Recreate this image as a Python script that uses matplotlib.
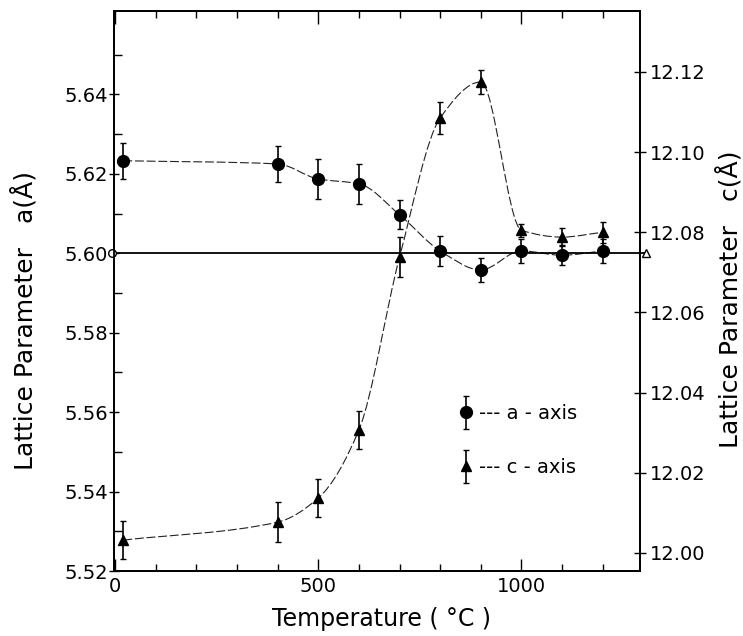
"""
Lattice parameters a and c versus temperature
"""

import numpy as np
import matplotlib.pyplot as plt
from matplotlib.path import Path
from matplotlib.patches import PathPatch
from matplotlib.ticker import FixedLocator
from matplotlib.container import ErrorbarContainer
from matplotlib.legend_handler import HandlerErrorbar

# Data
temps = [20, 400, 500, 600, 700, 800, 900, 1000, 1100, 1200]
a_vals = [5.6233, 5.6225, 5.6187, 5.6175, 5.6097, 5.6006, 5.5958, 5.6006, 5.5995, 5.6006]
a_errs = [0.0045, 0.0045, 0.0050, 0.0050, 0.0037, 0.0038, 0.0030, 0.0030, 0.0025, 0.0030]
c_vals = [12.0032, 12.0077, 12.0137, 12.0307, 12.0738, 12.1085, 12.1175, 12.0805, 12.0788, 12.0800]
c_errs = [0.0048, 0.0050, 0.0048, 0.0047, 0.0050, 0.0040, 0.0030, 0.0016, 0.0023, 0.0026]
a_ref = 5.60

a_ticks = [5.52, 5.54, 5.56, 5.58, 5.60, 5.62, 5.64]
a_minor = [5.53, 5.55, 5.57, 5.59, 5.61, 5.63, 5.65]
c_ticks = [12.00, 12.02, 12.04, 12.06, 12.08, 12.10, 12.12]
x_ticks = [0, 500, 1000]
x_minor = [100, 200, 300, 400, 600, 700, 800, 900, 1100, 1200]
legend_labels = ['--- a - axis', '--- c - axis']

FONT = 'DejaVu Sans'
FS_TICK = 14
FS_LABEL = 17
DPI = 100


def pchip_path(x, y):
    """Monotone cubic Hermite curve through the points, as a Bezier path"""
    x = np.asarray(x, float)
    y = np.asarray(y, float)
    h = np.diff(x)
    d = np.diff(y) / h
    m = np.zeros_like(y)
    for i in range(1, len(x) - 1):
        if d[i - 1] * d[i] > 0:
            w1 = 2 * h[i] + h[i - 1]
            w2 = h[i] + 2 * h[i - 1]
            m[i] = (w1 + w2) / (w1 / d[i - 1] + w2 / d[i])
    m[0] = d[0]
    m[-1] = d[-1]
    verts = [(x[0], y[0])]
    codes = [Path.MOVETO]
    for i in range(len(x) - 1):
        verts += [(x[i] + h[i] / 3, y[i] + m[i] * h[i] / 3),
                  (x[i + 1] - h[i] / 3, y[i + 1] - m[i + 1] * h[i] / 3),
                  (x[i + 1], y[i + 1])]
        codes += [Path.CURVE4] * 3
    return Path(verts, codes)


plt.rcParams['font.family'] = FONT

fig = plt.figure(figsize=(7.43, 6.36), dpi=DPI)
ax = fig.add_axes([0.1534, 0.1022, 0.708, 0.8805])
ax2 = ax.twinx()

ax.set_xlim(-3, 1292)
ax.set_ylim(5.52, 5.661)
ax2.set_ylim(11.9955, 12.1352)

# smooth guide curves
ax.add_patch(PathPatch(pchip_path(temps, a_vals), fill=False, lw=0.8,
                       ls=(0, (8, 2.5)), ec='#222222'))
ax2.add_patch(PathPatch(pchip_path(temps, c_vals), fill=False, lw=0.8,
                        ls=(0, (8, 2.5)), ec='#222222'))

# reference line at 5.60
x0, x1 = ax.get_xlim()
ax.plot([x0, x1 + 15], [a_ref, a_ref], color='black', lw=1.3, clip_on=False)
ax.plot([x0 - 4], [a_ref], marker='o', mfc='white', mec='black', ms=5.5,
        clip_on=False, zorder=5)
ax.plot([x1 + 15], [a_ref], marker='^', mfc='white', mec='black', ms=5.5,
        clip_on=False, zorder=5)

ha = ax.errorbar(temps, a_vals, yerr=a_errs, fmt='o', color='black', ms=8.5,
                 capsize=2.5, elinewidth=1.2, capthick=1.0)
hc = ax2.errorbar(temps, c_vals, yerr=c_errs, fmt='^', color='black', ms=7,
                  capsize=2.5, elinewidth=1.2, capthick=1.0)

ax2.legend([ha, hc], legend_labels, loc='upper left',
           bbox_to_anchor=(0.625, 0.329), frameon=False, fontsize=FS_TICK,
           handlelength=0.6, handletextpad=0.35, labelspacing=1.8,
           handler_map={ErrorbarContainer: HandlerErrorbar(yerr_size=0.85)})

# ticks
ax.xaxis.set_major_locator(FixedLocator(x_ticks))
ax.xaxis.set_minor_locator(FixedLocator(x_minor))
ax.yaxis.set_major_locator(FixedLocator(a_ticks))
ax.yaxis.set_minor_locator(FixedLocator(a_minor))
ax.set_yticklabels([f'{v:.2f}' for v in a_ticks])
ax2.yaxis.set_major_locator(FixedLocator(c_ticks))
ax2.set_yticklabels([f'{v:.2f}' for v in c_ticks])

ax.tick_params(axis='x', which='major', direction='in', length=9, width=1,
               labelsize=FS_TICK, top=True, pad=4)
ax.tick_params(axis='x', which='minor', direction='in', length=5, width=1,
               top=True)
ax.tick_params(axis='y', which='major', direction='inout', length=7, width=1,
               labelsize=FS_TICK, pad=1)
ax.tick_params(axis='y', which='minor', direction='in', length=6, width=1)
ax2.tick_params(axis='y', which='major', direction='inout', length=8, width=1,
                labelsize=FS_TICK, pad=3)

for spine in list(ax.spines.values()) + list(ax2.spines.values()):
    spine.set_linewidth(1.3)

ax.set_xlabel('Temperature ( °C )', fontsize=FS_LABEL)
ax.set_ylabel('Lattice Parameter   a(Å)', fontsize=FS_LABEL + 1)
ax2.set_ylabel('Lattice Parameter   c(Å)', fontsize=FS_LABEL + 1, rotation=90)
ax.xaxis.set_label_coords(0.508, -0.064)
ax.yaxis.set_label_coords(-0.146, 0.448)
ax2.yaxis.set_label_coords(1.144, 0.486)

fig.savefig('out.png', dpi=DPI)
